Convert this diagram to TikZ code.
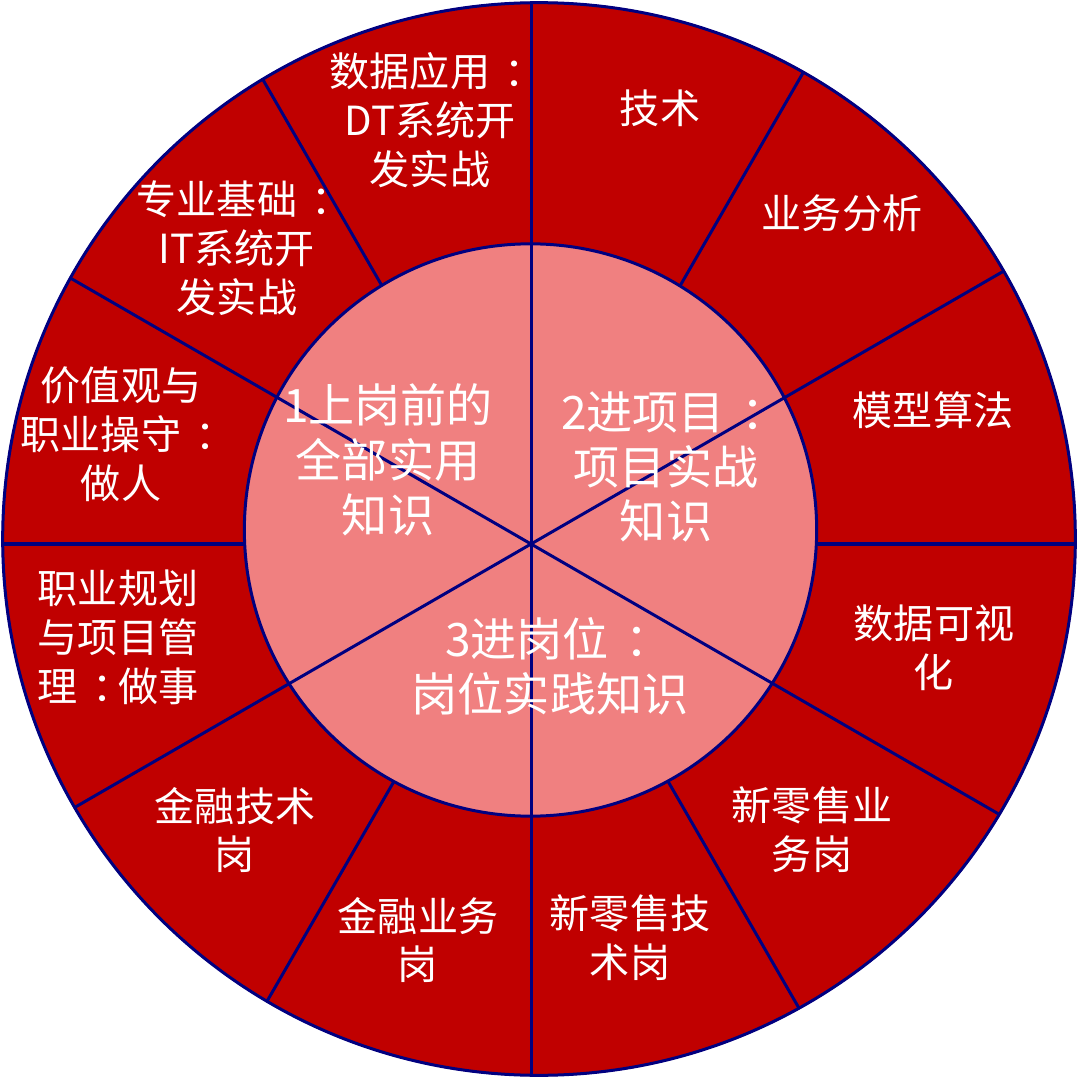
\documentclass[tikz,border=0pt]{standalone}
\usepackage{fontspec}
\setmainfont{Noto Sans CJK SC}
\usetikzlibrary{calc}
\definecolor{darkred}{RGB}{192,0,0}
\definecolor{pinkin}{RGB}{240,128,128}
\definecolor{navyline}{RGB}{0,0,128}
\newcommand{\zhcolon}{\makebox[1em][l]{\hspace{0.36em}：}}
\begin{document}
\begin{tikzpicture}[x=0.01cm,y=-0.01cm,
  spoke/.style={draw=navyline,line width=0.03cm},
  ringtext/.style={text=white,align=center,inner sep=0pt,font=\fontsize{11.4}{13.9}\selectfont},
  coretext/.style={text=white,align=center,inner sep=0pt,font=\fontsize{13.1}{15.6}\selectfont}]
\useasboundingbox (0,0) rectangle (1080,1080);
\coordinate (O) at (531,544);
\coordinate (OC) at (539,539);
\coordinate (IC) at (530.5,530);
% outer disc
\fill[darkred] (OC) circle (5.37cm);
% twelve spokes
\begin{scope}
  \clip (OC) circle (5.37cm);
  \foreach \a in {0,30,...,330}
    \draw[spoke] (O) -- ++(\a:800);
\end{scope}
% inner disc
\fill[pinkin] (IC) circle (2.86cm);
\begin{scope}
  \clip (IC) circle (2.86cm);
  \foreach \a in {30,90,150}
    \draw[spoke] ($(O)+(\a:400)$) -- ($(O)+(\a+180:400)$);
\end{scope}
\draw[spoke] (IC) circle (2.86cm);
\draw[spoke] (OC) circle (5.36cm);
% ring labels
\node[ringtext] (t1) at (430,120) {数据应用\zhcolon\\DT系统开\\发实战};
\node[ringtext] (t2) at (237,248) {专业基础\zhcolon\\IT系统开\\发实战};
\node[ringtext] (t3) at (121,434) {价值观与\\职业操守\zhcolon\\做人};
\node[ringtext] (t4) at (118,637) {职业规划\\与项目管\\理\zhcolon 做事};
\node[ringtext] (t5) at (235,830) {金融技术\\岗};
\node[ringtext] (t6) at (418,940) {金融业务\\岗};
\node[ringtext] (t7) at (630,938) {新零售技\\术岗};
\node[ringtext] (t8) at (812,830) {新零售业\\务岗};
\node[ringtext] (t9) at (934,648) {数据可视\\化};
\node[ringtext] (t10) at (933,410) {模型算法};
\node[ringtext] (t11) at (842,213) {业务分析};
\node[ringtext] (t12) at (660,108) {技术};
% core labels
\node[coretext] (c1) at (388,460) {1上岗前的\\全部实用\\知识};
\node[coretext] (c2) at (666,467) {2进项目\zhcolon\\项目实战\\知识};
\node[coretext] (c3) at (550,666) {3进岗位\zhcolon\\岗位实践知识};
\end{tikzpicture}
\end{document}
